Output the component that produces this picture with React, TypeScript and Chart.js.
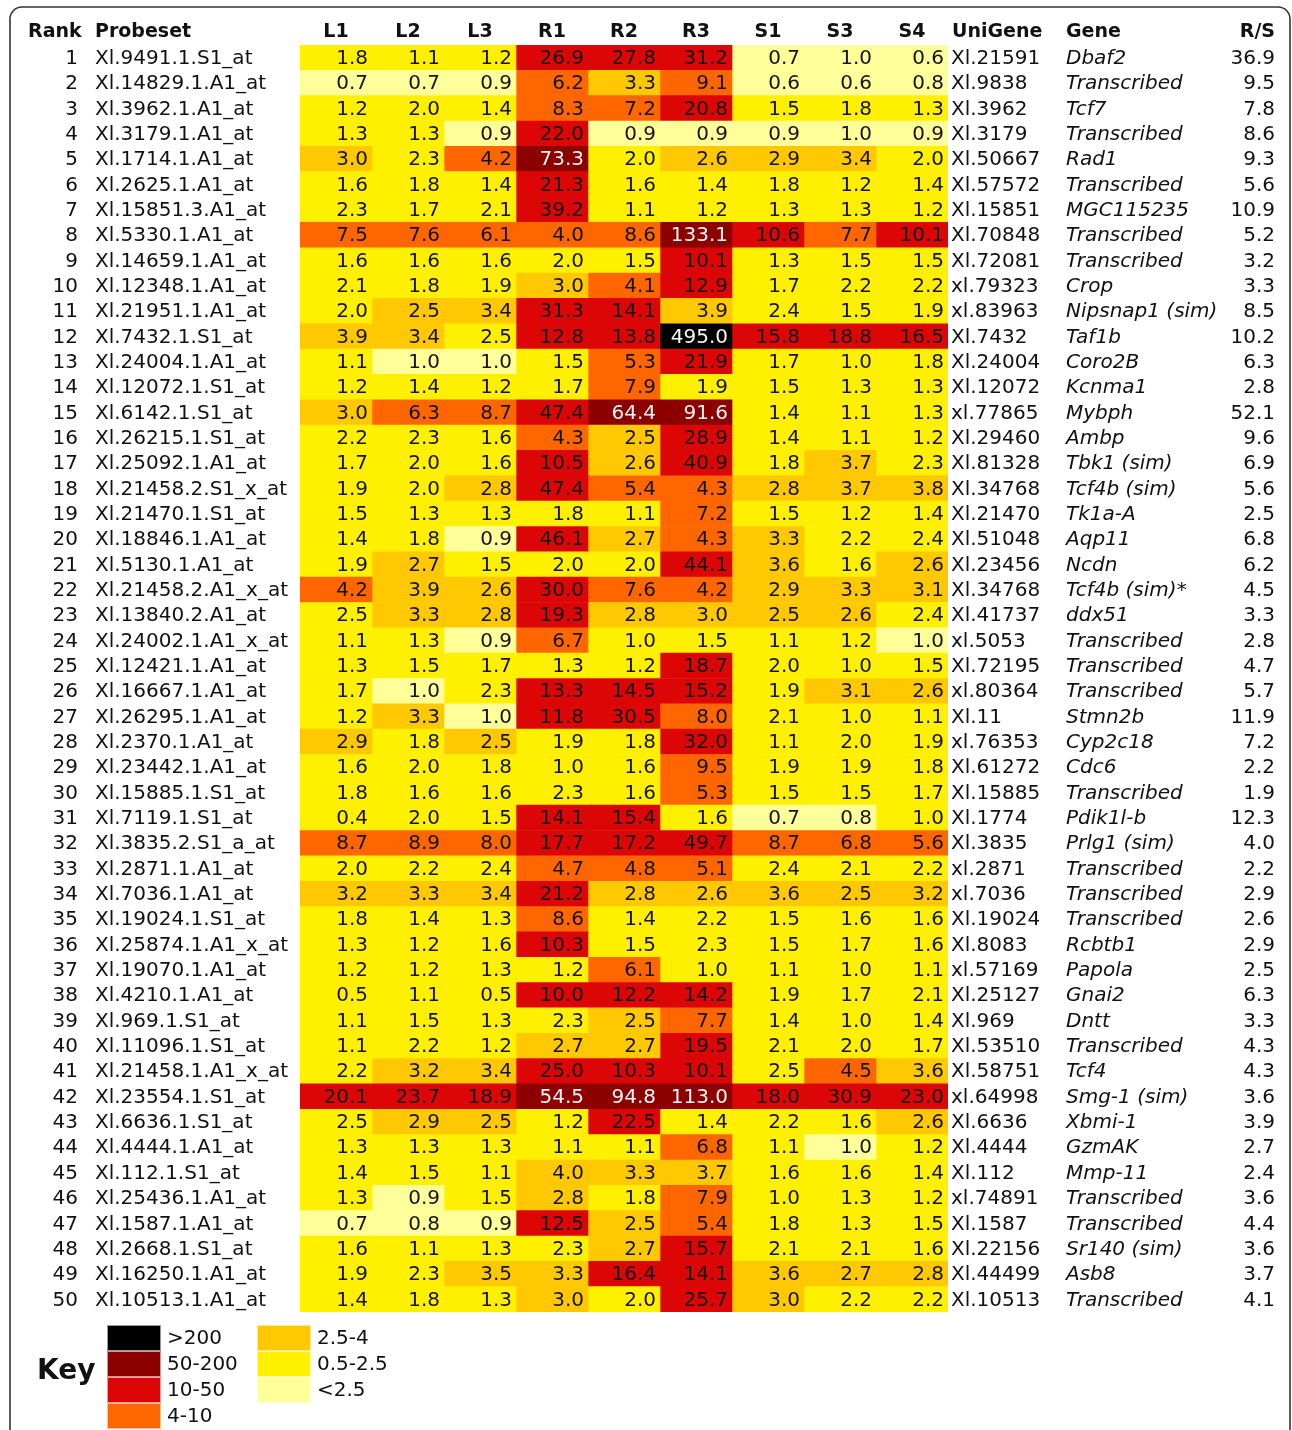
import { useEffect, useRef } from 'react';
import { Chart, registerables } from 'chart.js';
Chart.register(...registerables);

const ranks = [1,2,3,4,5,6,7,8,9,10,11,12,13,14,15,16,17,18,19,20,21,22,23,24,25,26,27,28,29,30,31,32,33,34,35,36,37,38,39,40,41,42,43,44,45,46,47,48,49,50];

const probesets = [
  'Xl.9491.1.S1_at','Xl.14829.1.A1_at','Xl.3962.1.A1_at','Xl.3179.1.A1_at','Xl.1714.1.A1_at',
  'Xl.2625.1.A1_at','Xl.15851.3.A1_at','Xl.5330.1.A1_at','Xl.14659.1.A1_at','Xl.12348.1.A1_at',
  'Xl.21951.1.A1_at','Xl.7432.1.S1_at','Xl.24004.1.A1_at','Xl.12072.1.S1_at','Xl.6142.1.S1_at',
  'Xl.26215.1.S1_at','Xl.25092.1.A1_at','Xl.21458.2.S1_x_at','Xl.21470.1.S1_at','Xl.18846.1.A1_at',
  'Xl.5130.1.A1_at','Xl.21458.2.A1_x_at','Xl.13840.2.A1_at','Xl.24002.1.A1_x_at','Xl.12421.1.A1_at',
  'Xl.16667.1.A1_at','Xl.26295.1.A1_at','Xl.2370.1.A1_at','Xl.23442.1.A1_at','Xl.15885.1.S1_at',
  'Xl.7119.1.S1_at','Xl.3835.2.S1_a_at','Xl.2871.1.A1_at','Xl.7036.1.A1_at','Xl.19024.1.S1_at',
  'Xl.25874.1.A1_x_at','Xl.19070.1.A1_at','Xl.4210.1.A1_at','Xl.969.1.S1_at','Xl.11096.1.S1_at',
  'Xl.21458.1.A1_x_at','Xl.23554.1.S1_at','Xl.6636.1.S1_at','Xl.4444.1.A1_at','Xl.112.1.S1_at',
  'Xl.25436.1.A1_at','Xl.1587.1.A1_at','Xl.2668.1.S1_at','Xl.16250.1.A1_at','Xl.10513.1.A1_at',
];

const unigenes = [
  'Xl.21591','Xl.9838','Xl.3962','Xl.3179','Xl.50667','Xl.57572','Xl.15851','Xl.70848','Xl.72081','xl.79323',
  'xl.83963','Xl.7432','Xl.24004','Xl.12072','xl.77865','Xl.29460','Xl.81328','Xl.34768','Xl.21470','Xl.51048',
  'Xl.23456','Xl.34768','Xl.41737','xl.5053','Xl.72195','xl.80364','Xl.11','xl.76353','Xl.61272','Xl.15885',
  'Xl.1774','Xl.3835','xl.2871','xl.7036','Xl.19024','Xl.8083','xl.57169','Xl.25127','Xl.969','Xl.53510',
  'Xl.58751','xl.64998','Xl.6636','Xl.4444','Xl.112','xl.74891','Xl.1587','Xl.22156','Xl.44499','Xl.10513',
];

const genes = [
  'Dbaf2','Transcribed','Tcf7','Transcribed','Rad1','Transcribed','MGC115235','Transcribed','Transcribed','Crop',
  'Nipsnap1 (sim)','Taf1b','Coro2B','Kcnma1','Mybph','Ambp','Tbk1 (sim)','Tcf4b (sim)','Tk1a-A','Aqp11',
  'Ncdn','Tcf4b (sim)*','ddx51','Transcribed','Transcribed','Transcribed','Stmn2b','Cyp2c18','Cdc6','Transcribed',
  'Pdik1l-b','Prlg1 (sim)','Transcribed','Transcribed','Transcribed','Rcbtb1','Papola','Gnai2','Dntt','Transcribed',
  'Tcf4','Smg-1 (sim)','Xbmi-1','GzmAK','Mmp-11','Transcribed','Transcribed','Sr140 (sim)','Asb8','Transcribed',
];

const ratioRS = [
  36.9,9.5,7.8,8.6,9.3,5.6,10.9,5.2,3.2,3.3,
  8.5,10.2,6.3,2.8,52.1,9.6,6.9,5.6,2.5,6.8,
  6.2,4.5,3.3,2.8,4.7,5.7,11.9,7.2,2.2,1.9,
  12.3,4.0,2.2,2.9,2.6,2.9,2.5,6.3,3.3,4.3,
  4.3,3.6,3.9,2.7,2.4,3.6,4.4,3.6,3.7,4.1,
];

const columns = ['L1','L2','L3','R1','R2','R3','S1','S3','S4'];

const L1 = [1.8,0.7,1.2,1.3,3.0,1.6,2.3,7.5,1.6,2.1, 2.0,3.9,1.1,1.2,3.0,2.2,1.7,1.9,1.5,1.4, 1.9,4.2,2.5,1.1,1.3,1.7,1.2,2.9,1.6,1.8, 0.4,8.7,2.0,3.2,1.8,1.3,1.2,0.5,1.1,1.1, 2.2,20.1,2.5,1.3,1.4,1.3,0.7,1.6,1.9,1.4];
const L2 = [1.1,0.7,2.0,1.3,2.3,1.8,1.7,7.6,1.6,1.8, 2.5,3.4,1.0,1.4,6.3,2.3,2.0,2.0,1.3,1.8, 2.7,3.9,3.3,1.3,1.5,1.0,3.3,1.8,2.0,1.6, 2.0,8.9,2.2,3.3,1.4,1.2,1.2,1.1,1.5,2.2, 3.2,23.7,2.9,1.3,1.5,0.9,0.8,1.1,2.3,1.8];
const L3 = [1.2,0.9,1.4,0.9,4.2,1.4,2.1,6.1,1.6,1.9, 3.4,2.5,1.0,1.2,8.7,1.6,1.6,2.8,1.3,0.9, 1.5,2.6,2.8,0.9,1.7,2.3,1.0,2.5,1.8,1.6, 1.5,8.0,2.4,3.4,1.3,1.6,1.3,0.5,1.3,1.2, 3.4,18.9,2.5,1.3,1.1,1.5,0.9,1.3,3.5,1.3];
const R1 = [26.9,6.2,8.3,22.0,73.3,21.3,39.2,4.0,2.0,3.0, 31.3,12.8,1.5,1.7,47.4,4.3,10.5,47.4,1.8,46.1, 2.0,30.0,19.3,6.7,1.3,13.3,11.8,1.9,1.0,2.3, 14.1,17.7,4.7,21.2,8.6,10.3,1.2,10.0,2.3,2.7, 25.0,54.5,1.2,1.1,4.0,2.8,12.5,2.3,3.3,3.0];
const R2 = [27.8,3.3,7.2,0.9,2.0,1.6,1.1,8.6,1.5,4.1, 14.1,13.8,5.3,7.9,64.4,2.5,2.6,5.4,1.1,2.7, 2.0,7.6,2.8,1.0,1.2,14.5,30.5,1.8,1.6,1.6, 15.4,17.2,4.8,2.8,1.4,1.5,6.1,12.2,2.5,2.7, 10.3,94.8,22.5,1.1,3.3,1.8,2.5,2.7,16.4,2.0];
const R3 = [31.2,9.1,20.8,0.9,2.6,1.4,1.2,133.1,10.1,12.9, 3.9,495.0,21.9,1.9,91.6,28.9,40.9,4.3,7.2,4.3, 44.1,4.2,3.0,1.5,18.7,15.2,8.0,32.0,9.5,5.3, 1.6,49.7,5.1,2.6,2.2,2.3,1.0,14.2,7.7,19.5, 10.1,113.0,1.4,6.8,3.7,7.9,5.4,15.7,14.1,25.7];
const S1 = [0.7,0.6,1.5,0.9,2.9,1.8,1.3,10.6,1.3,1.7, 2.4,15.8,1.7,1.5,1.4,1.4,1.8,2.8,1.5,3.3, 3.6,2.9,2.5,1.1,2.0,1.9,2.1,1.1,1.9,1.5, 0.7,8.7,2.4,3.6,1.5,1.5,1.1,1.9,1.4,2.1, 2.5,18.0,2.2,1.1,1.6,1.0,1.8,2.1,3.6,3.0];
const S3 = [1.0,0.6,1.8,1.0,3.4,1.2,1.3,7.7,1.5,2.2, 1.5,18.8,1.0,1.3,1.1,1.1,3.7,3.7,1.2,2.2, 1.6,3.3,2.6,1.2,1.0,3.1,1.0,2.0,1.9,1.5, 0.8,6.8,2.1,2.5,1.6,1.7,1.0,1.7,1.0,2.0, 4.5,30.9,1.6,1.0,1.6,1.3,1.3,2.1,2.7,2.2];
const S4 = [0.6,0.8,1.3,0.9,2.0,1.4,1.2,10.1,1.5,2.2, 1.9,16.5,1.8,1.3,1.3,1.2,2.3,3.8,1.4,2.4, 2.6,3.1,2.4,1.0,1.5,2.6,1.1,1.9,1.8,1.7, 1.0,5.6,2.2,3.2,1.6,1.6,1.1,2.1,1.4,1.7, 3.6,23.0,2.6,1.2,1.4,1.2,1.5,1.6,2.8,2.2];

// colour class of each cell (L1..S4), as shown in the figure
// k >200, m 50-200, r 10-50, o 4-10, a 2.5-4, y 0.5-2.5, p <0.5
const levels = [
  'yyyrrrppp','pppoaoppp','yyyooryyy','yyprppppp','ayomyaaay',
  'yyyryyyyy','yyyryyyyy','ooooomror','yyyyyryyy','yyyaoryyy',
  'yaarrayyy','aayrrkrrr','yppyoryyy','yyyyoyyyy','aoormmyyy',
  'yyyoaryyy','yyyraryay','yyarooaaa','yyyyyoyyy','yypraoayy',
  'yayyyraya','oaarooaaa','yaaraaaay','yypoyyyyp','yyyyyryyy',
  'ypyrrryaa','yaprroyyy','ayayyryyy','yyyyyoyyy','yyyyyoyyy',
  'yyyrryppy','ooorrrooo','yyyoooyyy','aaaraaaaa','yyyoyyyyy',
  'yyyryyyyy','yyyyoyyyy','yyyrrryyy','yyyyaoyyy','yyyaaryyy',
  'yaarrryoa','rrrmmmrrr','yaayryyya','yyyyyoypy','yyyaaayyy',
  'ypyayoyyy','pppraoyyy','yyyyaryyy','yyaarraaa','yyyayrayy',
];

const keyLabels = ['>200','50-200','10-50','4-10','2.5-4','0.5-2.5','<2.5'];
const keyClasses = ['k','m','r','o','a','y','p'];

const palette: Record<string, string> = {
  k: '#000000',
  m: '#8c0000',
  r: '#dc0606',
  o: '#ff6600',
  a: '#ffc800',
  y: '#fff000',
  p: '#ffff99',
};

const FONT = '"DejaVu Sans", Verdana, sans-serif';

const tablePlugin = {
  id: 'tableText',
  afterDatasetsDraw(chart: any) {
    const ctx = chart.ctx as CanvasRenderingContext2D;
    const xs = chart.scales.x;
    const ys = chart.scales.y;
    const colValues = [L1, L2, L3, R1, R2, R3, S1, S3, S4];
    ctx.save();
    ctx.textBaseline = 'middle';

    // header
    ctx.fillStyle = '#111';
    ctx.font = `bold 19px ${FONT}`;
    const hy = 32;
    ctx.textAlign = 'left';
    ctx.fillText('Rank', 28, hy);
    ctx.fillText('Probeset', 95, hy);
    ctx.fillText('UniGene', 952, hy);
    ctx.fillText('Gene', 1066, hy);
    ctx.textAlign = 'right';
    ctx.fillText('R/S', 1275, hy);
    ctx.textAlign = 'center';
    columns.forEach((name, c) => {
      ctx.fillText(name, (xs.getPixelForValue(c) + xs.getPixelForValue(c + 1)) / 2, hy);
    });

    // rows
    ranks.forEach((rank, i) => {
      const y = ys.getPixelForValue(i) + 1;
      ctx.font = `20px ${FONT}`;
      ctx.fillStyle = '#111';
      ctx.textAlign = 'right';
      ctx.fillText(String(rank), 78, y);
      ctx.fillText(ratioRS[i].toFixed(1), 1275, y);
      ctx.textAlign = 'left';
      ctx.fillText(probesets[i], 95, y);
      ctx.fillText(unigenes[i], 951, y);
      ctx.font = `italic 20px ${FONT}`;
      ctx.fillText(genes[i], 1066, y);

      ctx.font = `20px ${FONT}`;
      ctx.textAlign = 'right';
      colValues.forEach((arr, c) => {
        const cls = levels[i][c];
        ctx.fillStyle = cls === 'm' || cls === 'k' ? '#f4f4f4' : '#141414';
        ctx.fillText(arr[i].toFixed(1), xs.getPixelForValue(c + 1) - 4, y);
      });
    });

    // key
    ctx.fillStyle = '#111';
    ctx.font = `bold 28px ${FONT}`;
    ctx.textAlign = 'left';
    ctx.fillText('Key', 37, 1372);
    const sw = 54;
    const sh = 26;
    keyLabels.forEach((label, k) => {
      const col = k < 4 ? 0 : 1;
      const row = k < 4 ? k : k - 4;
      const x0 = col === 0 ? 107 : 257;
      const y0 = 1325 + row * sh;
      ctx.fillStyle = palette[keyClasses[k]];
      ctx.fillRect(x0, y0, sw, sh);
      ctx.strokeStyle = 'rgba(255,255,255,0.6)';
      ctx.lineWidth = 1;
      ctx.strokeRect(x0 + 0.5, y0 + 0.5, sw - 1, sh - 1);
      ctx.fillStyle = '#111';
      ctx.font = `20px ${FONT}`;
      ctx.fillText(label, x0 + sw + 6, y0 + sh / 2 + 1);
    });

    // frame
    ctx.strokeStyle = '#333';
    ctx.lineWidth = 1.6;
    const fx = 10, fy = 7, fw = 1280, fh = 1600, r = 12;
    ctx.beginPath();
    ctx.moveTo(fx, fy + fh);
    ctx.lineTo(fx, fy + r);
    ctx.arcTo(fx, fy, fx + r, fy, r);
    ctx.lineTo(fx + fw - r, fy);
    ctx.arcTo(fx + fw, fy, fx + fw, fy + r, r);
    ctx.lineTo(fx + fw, fy + fh);
    ctx.stroke();
    ctx.restore();
  },
};

export default function App() {
  const ref = useRef<HTMLCanvasElement>(null);
  useEffect(() => {
    if (!ref.current) return;
    const datasets = columns.map((name, c) => ({
      label: name,
      data: ranks.map(() => [c, c + 1]),
      backgroundColor: levels.map((l) => palette[l[c]]),
      borderWidth: 0,
      grouped: false,
      barPercentage: 1,
      categoryPercentage: 1,
    }));
    const chart = new Chart(ref.current, {
      type: 'bar',
      data: { labels: ranks.map(String), datasets: datasets as any },
      options: {
        indexAxis: 'y',
        animation: false,
        responsive: false,
        devicePixelRatio: 1,
        layout: { padding: { left: 300, right: 344, top: 45, bottom: 118 } },
        scales: {
          x: { type: 'linear', min: 0, max: 9, display: false },
          y: { type: 'category', display: false, offset: true },
        },
        plugins: { legend: { display: false }, tooltip: { enabled: false } },
      },
      plugins: [tablePlugin],
    });
    return () => chart.destroy();
  }, []);
  return (
    <div style={{ position: 'absolute', left: 0, top: 0, width: 1292, height: 1430, background: '#fff' }}>
      <canvas ref={ref} width={1292} height={1430} style={{ display: 'block', width: 1292, height: 1430 }} />
    </div>
  );
}
